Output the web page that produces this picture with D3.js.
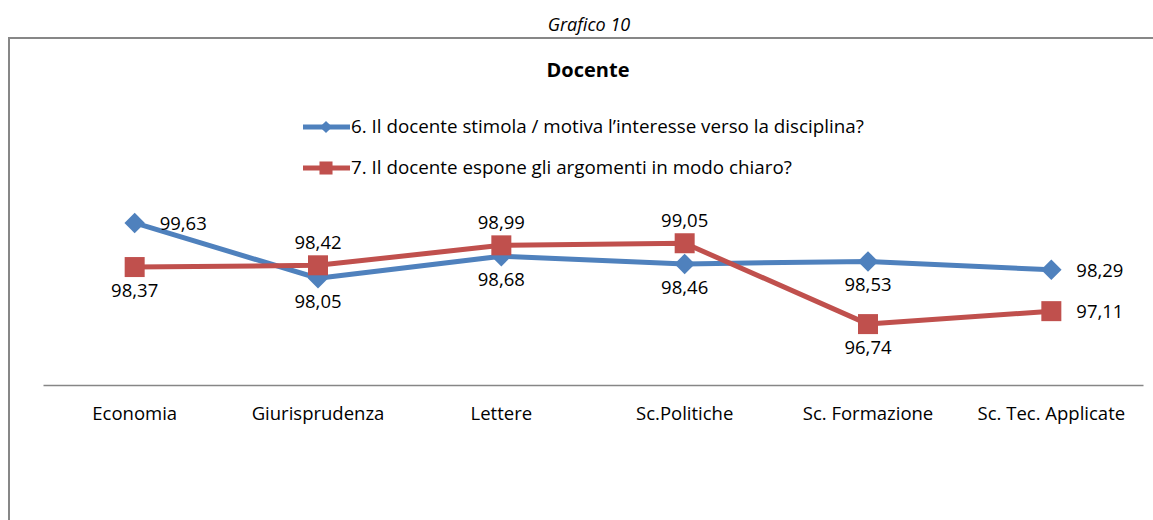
<!DOCTYPE html>
<html lang="it">
<head>
  <meta charset="utf-8">
  <title>Docente</title>
  <script src="https://d3js.org/d3.v7.min.js"></script>
  <style>
    body { margin: 0; background: #fff; }
    #chart text { font-family: "Open Sans", "Noto Sans", sans-serif; fill: #000; }
  </style>
</head>
<body>
  <div id="chart"></div>

  <script type="text/javascript">
    "use strict"

    // dati
    const categorie = ["Economia", "Giurisprudenza", "Lettere", "Sc.Politiche", "Sc. Formazione", "Sc. Tec. Applicate"];
    const domanda6 = [99.63, 98.05, 98.68, 98.46, 98.53, 98.29];
    const domanda7 = [98.37, 98.42, 98.99, 99.05, 96.74, 97.11];
    const nomiSerie = [
      "6. Il docente stimola / motiva l\u2019interesse verso la disciplina?",
      "7. Il docente espone gli argomenti in modo chiaro?"
    ];
    // posizione etichette: 'r' destra, 'b' sotto, 't' sopra
    const posEtichette6 = ["r", "b", "b", "b", "b", "r"];
    const posEtichette7 = ["b", "t", "t", "t", "b", "r"];

    const larguraSVG = 1153, alturaSVG = 520;
    const plot = {left: 43, right: 1143, top: 210, bottom: 385};

    const svg = d3.select('#chart').append('svg')
      .attr('width', larguraSVG)
      .attr('height', alturaSVG);

    svg.append('text')
      .attr('x', 589).attr('y', 31)
      .attr('text-anchor', 'middle')
      .style('font-style', 'italic')
      .style('font-size', '18px')
      .text('Grafico 10');

    // cornice del grafico
    svg.append('path')
      .attr('d', 'M9,522 L9,38 L1160,38')
      .attr('fill', 'none')
      .attr('stroke', '#878787')
      .attr('stroke-width', 2);

    svg.append('text')
      .attr('x', 588).attr('y', 77)
      .attr('text-anchor', 'middle')
      .style('font-weight', 'bold')
      .style('font-size', '20px')
      .text('Docente');

    const x = d3.scaleBand()
      .domain(categorie)
      .range([plot.left, plot.right]);

    const y = d3.scaleLinear()
      .domain([95, 100])
      .range([plot.bottom, plot.top]);

    // asse x
    const asseX = svg.append('g')
      .attr('transform', 'translate(0,' + plot.bottom + ')')
      .call(d3.axisBottom(x).tickSize(0).tickPadding(22));
    asseX.select('.domain').attr('stroke', '#868686').attr('stroke-width', 1.5);
    asseX.selectAll('text').style('font-size', '18.5px');

    const diamante = d3.symbol().type(d3.symbolSquare);

    const serie = [
      {nome: nomiSerie[0], valori: domanda6, pos: posEtichette6, colore: '#4f81bd', ruota: 45, size: 210, sizeLeg: 75},
      {nome: nomiSerie[1], valori: domanda7, pos: posEtichette7, colore: '#c0504d', ruota: 0, size: 400, sizeLeg: 170}
    ];

    const linha = d3.line()
      .x((d, i) => x(categorie[i]) + x.bandwidth() / 2)
      .y(d => y(d));

    serie.forEach(s => {
      svg.append('path')
        .datum(s.valori)
        .attr('fill', 'none')
        .attr('stroke', s.colore)
        .attr('stroke-width', 5)
        .attr('stroke-linejoin', 'round')
        .attr('d', linha);
    });

    serie.forEach(s => {
      const g = svg.append('g');
      g.selectAll('path')
        .data(s.valori)
        .enter().append('path')
          .attr('d', diamante.size(s.size)())
          .attr('fill', s.colore)
          .attr('transform', (d, i) => 'translate(' + (x(categorie[i]) + x.bandwidth() / 2) + ',' + y(d) + ') rotate(' + s.ruota + ')');

      g.selectAll('text')
        .data(s.valori)
        .enter().append('text')
          .style('font-size', '18.5px')
          .attr('text-anchor', (d, i) => s.pos[i] === 'r' ? 'start' : 'middle')
          .attr('x', (d, i) => x(categorie[i]) + x.bandwidth() / 2 + (s.pos[i] === 'r' ? 25 : 0))
          .attr('y', (d, i) => y(d) + (s.pos[i] === 'r' ? 7 : s.pos[i] === 'b' ? 30 : -16))
          .text(d => d3.format('.2f')(d).replace('.', ','));
    });

    // legenda
    const legenda = svg.append('g');
    serie.forEach((s, i) => {
      const ly = 127 + i * 41;
      legenda.append('line')
        .attr('x1', 303).attr('x2', 350)
        .attr('y1', ly).attr('y2', ly)
        .attr('stroke', s.colore)
        .attr('stroke-width', 5);
      legenda.append('path')
        .attr('d', diamante.size(s.sizeLeg)())
        .attr('fill', s.colore)
        .attr('transform', 'translate(326,' + ly + ') rotate(' + s.ruota + ')');
      legenda.append('text')
        .attr('x', 351).attr('y', ly + 6)
        .style('font-size', '18.8px')
        .text(s.nome);
    });
  </script>
</body>
</html>
